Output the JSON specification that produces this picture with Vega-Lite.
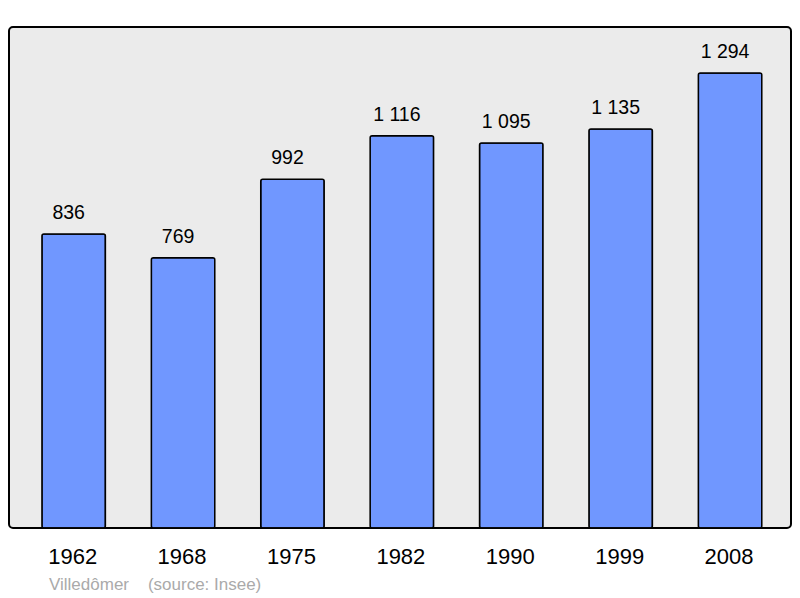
{
  "$schema": "https://vega.github.io/schema/vega-lite/v6.json",
  "width": 782,
  "height": 501,
  "autosize": {"type": "none"},
  "padding": {"left": 9, "top": 27, "right": 9, "bottom": 70},
  "background": "#ffffff",
  "config": {
    "font": "Liberation Sans",
    "view": {"fill": "#ebebeb", "stroke": "#000000", "strokeWidth": 2, "cornerRadius": 4},
    "locale": {"number": {"decimal": ",", "thousands": "\u00a0", "grouping": [3], "currency": ["", " €"]}}
  },
  "title": {
    "text": "Villedômer\u00a0\u00a0\u00a0\u00a0(source: Insee)",
    "orient": "bottom",
    "anchor": "start",
    "dx": 40,
    "offset": 10,
    "fontSize": 17,
    "fontWeight": "normal",
    "color": "#aaaaaa",
    "font": "Liberation Sans"
  },
  "data": {
    "values": [
      {"year": "1962", "population": 836},
      {"year": "1968", "population": 769},
      {"year": "1975", "population": 992},
      {"year": "1982", "population": 1116},
      {"year": "1990", "population": 1095},
      {"year": "1999", "population": 1135},
      {"year": "2008", "population": 1294}
    ]
  },
  "encoding": {
    "x": {
      "field": "year",
      "type": "ordinal",
      "scale": {"paddingInner": 0.42, "paddingOuter": 0.284, "align": 0.53},
      "axis": {
        "title": null,
        "labelAngle": 0,
        "domain": false,
        "ticks": false,
        "labelFontSize": 22,
        "labelColor": "#000000",
        "labelPadding": 18,
        "labelFont": "Liberation Sans",
        "labelOffset": -1
      }
    },
    "y": {
      "field": "population",
      "type": "quantitative",
      "scale": {"domain": [0, 1425], "nice": false, "zero": true},
      "axis": null
    }
  },
  "layer": [
    {
      "mark": {"type": "bar", "fill": "#7097ff", "stroke": "#000000", "strokeWidth": 1.5, "cornerRadius": 2}
    },
    {
      "mark": {"type": "text", "baseline": "alphabetic", "dy": -15, "dx": -5, "fontSize": 19.5, "color": "#000000", "font": "Liberation Sans"},
      "encoding": {
        "text": {"field": "population", "type": "quantitative", "format": ",d"}
      }
    }
  ]
}
